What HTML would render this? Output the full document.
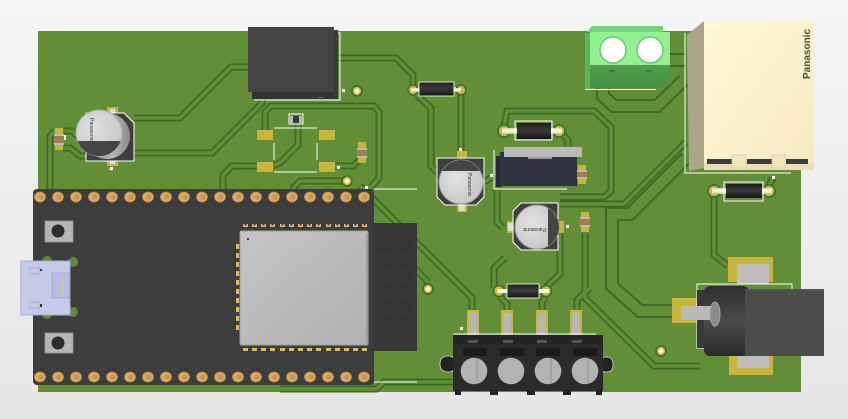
<!DOCTYPE html>
<html><head><meta charset="utf-8"><style>
html,body{margin:0;padding:0;width:848px;height:419px;overflow:hidden;background:#eee;}
svg{display:block;}
</style></head><body>
<svg width="848" height="419" viewBox="0 0 848 419" xmlns="http://www.w3.org/2000/svg">
<defs>
<linearGradient id="bg" x1="0" y1="0" x2="0" y2="1"><stop offset="0" stop-color="#f6f6f6"/><stop offset="1" stop-color="#e6e6e6"/></linearGradient>
<linearGradient id="relay" x1="0" y1="0" x2="1" y2="1"><stop offset="0" stop-color="#fff9d6"/><stop offset="1" stop-color="#f7eac2"/></linearGradient>
<linearGradient id="diode" x1="0" y1="0" x2="0" y2="1"><stop offset="0" stop-color="#1c1c1c"/><stop offset="0.45" stop-color="#3a3a3a"/><stop offset="1" stop-color="#151515"/></linearGradient>
<linearGradient id="lead" x1="0" y1="0" x2="0" y2="1"><stop offset="0" stop-color="#d8d4b0"/><stop offset="0.5" stop-color="#fffbe0"/><stop offset="1" stop-color="#c8c4a0"/></linearGradient>
<linearGradient id="capside" x1="0" y1="0" x2="1" y2="0"><stop offset="0" stop-color="#777"/><stop offset="0.6" stop-color="#b8b8b8"/><stop offset="1" stop-color="#8a8a8a"/></linearGradient>
<radialGradient id="captop" cx="0.4" cy="0.4" r="0.7"><stop offset="0" stop-color="#e2e2e2"/><stop offset="1" stop-color="#c4c4c4"/></radialGradient>
<linearGradient id="shield" x1="0" y1="0" x2="1" y2="1"><stop offset="0" stop-color="#c4c4c4"/><stop offset="1" stop-color="#b2b2b2"/></linearGradient>
<linearGradient id="tb" x1="0" y1="0" x2="0" y2="1"><stop offset="0" stop-color="#4f9f4f"/><stop offset="1" stop-color="#438f43"/></linearGradient>
<linearGradient id="jack" x1="0" y1="0" x2="0" y2="1"><stop offset="0" stop-color="#2e2e2e"/><stop offset="0.5" stop-color="#4a4a4a"/><stop offset="1" stop-color="#2a2a2a"/></linearGradient>
<g id="tr" fill="none" stroke-linejoin="miter">
<path d="M134,118 L180,118 L231,67 L250,67"/>
<path d="M134,153 L212,153 L262,103 L262,95"/>
<path d="M334,58 L396,58 L413,75 L413,86"/>
<path d="M265,130 L265,112 L271,106 L374,106 L379,112 L379,178 L371,187"/>
<path d="M298,124 L298,145 L281,162 L273,166"/>
<path d="M257,166 L232,166 L223,175 L223,192"/>
<path d="M344,181 L300,181 L294,187 L294,192"/>
<path d="M335,166 L353,166 L362,158"/>
<path d="M55,131 L50,136 L50,192"/>
<path d="M63,131 L72,131 L80,138"/>
<path d="M63,148 L70,148 L80,156 L90,156"/>
<path d="M461,95 L461,152"/>
<path d="M417,95 L431,108 L431,166 L440,175"/>
<path d="M504,127 L507,111 L594,111 L611,127 L611,191 L604,197 L560,197"/>
<path d="M497,190 L497,222 L503,228"/>
<path d="M546,287 L560,274 L560,228"/>
<path d="M505,258 L494,268 L494,288"/>
<path d="M585,233 L585,298 L654,366 L700,366"/>
<path d="M714,196 L714,255 L728,266"/>
<path d="M769,186 L773,178"/>
<path d="M360,186 L472,298 L472,312"/>
<path d="M405,258 L428,282"/>
<path d="M499,296 L507,304 L507,312"/>
<path d="M546,296 L542,302 L542,312"/>
<path d="M560,204 L624,204 L686,142"/>
<path d="M280,389 L376,389 L384,382 L455,382"/>
<path d="M484,182 L494,176"/>
<path d="M559,131 L568,140 L568,150"/>
<path d="M577,312 L577,300 L590,288"/>
</g>
<g id="trw" fill="none" stroke-linejoin="miter">
<path d="M603,88 L603,96 L614,106 L657,106 L684,80"/>
<path d="M686,158 L630,214 L612,214 L612,286 L640,311 L674,311"/>
<path d="M668,60 L686,60"/>
</g>
</defs>

<rect width="848" height="419" fill="url(#bg)"/>
<!-- board -->
<rect x="38" y="31" width="763" height="361" fill="#628e37"/>

<!-- traces -->
<use href="#trw" stroke="#3d6a25" stroke-width="14"/>
<use href="#trw" stroke="#628e37" stroke-width="10"/>
<use href="#tr" stroke="#3d6a25" stroke-width="7"/>
<use href="#tr" stroke="#628e37" stroke-width="3.5"/>

<!-- vias -->
<g fill="#cdb445" stroke="#3d6a25" stroke-width="1.5">
<circle cx="357" cy="91" r="5"/><circle cx="347" cy="181" r="5"/><circle cx="428" cy="289" r="5"/><circle cx="661" cy="351" r="5"/>
</g>
<g fill="#f4f0d8">
<circle cx="357" cy="91" r="2.6"/><circle cx="347" cy="181" r="2.6"/><circle cx="428" cy="289" r="2.6"/><circle cx="661" cy="351" r="2.6"/>
</g>

<!-- silk dots -->
<g fill="#fff">
<rect x="342" y="89" width="3" height="3"/><rect x="337" y="166" width="3" height="3"/><rect x="110" y="167" width="3" height="3"/>
<rect x="459" y="148" width="3" height="3"/><rect x="490" y="174" width="3" height="3"/><rect x="566" y="225" width="3" height="3"/>
<rect x="460" y="327" width="3" height="3"/><rect x="772" y="176" width="3" height="3"/><rect x="365" y="186" width="3" height="3"/>
</g>
<line x1="374" y1="189" x2="417" y2="189" stroke="#fff" stroke-width="1"/>
<line x1="374" y1="382" x2="417" y2="382" stroke="#fff" stroke-width="1"/>

<!-- inductor black box -->
<rect x="255" y="33" width="85" height="67" fill="none" stroke="#fff" stroke-width="1"/>
<rect x="252" y="90" width="86" height="9" fill="#333"/>
<rect x="332" y="30" width="6" height="66" fill="#393939"/>
<rect x="248" y="27" width="86" height="65" fill="#444"/>
<rect x="318" y="97" width="6" height="1" fill="#666"/>

<!-- SMD footprint -->
<g fill="#c9b43d">
<rect x="257" y="130" width="16" height="10"/><rect x="319" y="130" width="16" height="10"/>
<rect x="257" y="162" width="16" height="10"/><rect x="319" y="162" width="16" height="10"/>
</g>
<g stroke="#fff" stroke-width="1">
<line x1="274" y1="128" x2="317" y2="128"/><line x1="274" y1="172" x2="317" y2="172"/>
<line x1="274" y1="143" x2="274" y2="160"/><line x1="317" y1="143" x2="317" y2="160"/>
</g>
<rect x="289" y="114" width="14" height="10" fill="none" stroke="#fff" stroke-width="1"/>
<rect x="290" y="116" width="12" height="7" fill="#3b3b3b"/>
<rect x="290" y="116" width="3" height="7" fill="#bbb"/><rect x="299" y="116" width="3" height="7" fill="#bbb"/>

<!-- small resistors -->
<g>
<rect x="55" y="128" width="8" height="22" fill="#c9b43d"/><rect x="54" y="134" width="10" height="11" fill="#a07e52"/><rect x="54" y="134" width="10" height="2" fill="#bbb"/><rect x="54" y="143" width="10" height="2" fill="#bbb"/><rect x="64" y="135" width="2" height="5" fill="#fff"/>
<rect x="358" y="142" width="8" height="21" fill="#c9b43d"/><rect x="357" y="148" width="10" height="10" fill="#a07e52"/><rect x="357" y="148" width="10" height="2" fill="#bbb"/><rect x="357" y="156" width="10" height="2" fill="#bbb"/>
<rect x="578" y="165" width="8" height="19" fill="#c9b43d"/><rect x="577" y="170" width="10" height="9" fill="#a07e52"/><rect x="577" y="170" width="10" height="2" fill="#bbb"/><rect x="577" y="177" width="10" height="2" fill="#bbb"/>
<rect x="581" y="212" width="8" height="20" fill="#c9b43d"/><rect x="580" y="217" width="10" height="10" fill="#a07e52"/><rect x="580" y="217" width="10" height="2" fill="#bbb"/><rect x="580" y="225" width="10" height="2" fill="#bbb"/>
</g>

<!-- C1 -->
<rect x="107" y="107" width="11" height="8" fill="#c9b43d"/><rect x="107" y="158" width="11" height="8" fill="#c9b43d"/>
<rect x="110" y="109" width="5" height="5" fill="#ddd"/><rect x="110" y="159" width="5" height="5" fill="#ddd"/>
<polygon points="86,113 124,113 134,123 134,161 86,161" fill="#3e3e3e" stroke="#fff" stroke-width="1"/>
<circle cx="107" cy="136" r="23" fill="url(#capside)"/>
<circle cx="99" cy="133" r="23" fill="url(#captop)" stroke="#aaa" stroke-width="1"/>
<path d="M77.4,141 A23,23 0 0 0 120.6,141 Z" fill="#454545"/>
<text x="0" y="0" transform="translate(90,118) rotate(90)" font-family="Liberation Sans, sans-serif" font-size="5" fill="#333">Panasonic</text>
<circle cx="111" cy="169" r="1.5" fill="#fff"/>

<!-- D1 -->
<rect x="413" y="87" width="48" height="5" fill="url(#lead)"/>
<circle cx="413" cy="90" r="5" fill="#cdb445" stroke="#3d6a25" stroke-width="1.5"/>
<circle cx="461" cy="90" r="5" fill="#cdb445" stroke="#3d6a25" stroke-width="1.5"/>
<rect x="411" y="88" width="50" height="4" fill="url(#lead)"/>
<rect x="419" y="82" width="35" height="14" fill="url(#diode)" stroke="#fff" stroke-width="0.8"/>

<!-- D2 -->
<circle cx="504" cy="131" r="6" fill="#cdb445" stroke="#3d6a25" stroke-width="1.5"/>
<circle cx="559" cy="131" r="6" fill="#cdb445" stroke="#3d6a25" stroke-width="1.5"/>
<rect x="502" y="128" width="60" height="6" fill="url(#lead)"/>
<rect x="515" y="121" width="37" height="19" fill="none" stroke="#fff" stroke-width="1"/>
<rect x="517" y="123" width="34" height="16" fill="url(#diode)"/>

<!-- D3 -->
<circle cx="714" cy="191" r="6" fill="#cdb445" stroke="#3d6a25" stroke-width="1.5"/>
<circle cx="769" cy="191" r="6" fill="#cdb445" stroke="#3d6a25" stroke-width="1.5"/>
<rect x="712" y="188" width="60" height="6" fill="url(#lead)"/>
<rect x="724" y="182" width="39" height="19" fill="none" stroke="#fff" stroke-width="1"/>
<rect x="726" y="184" width="36" height="14" fill="url(#diode)"/>

<!-- D4 -->
<circle cx="499" cy="291" r="5.5" fill="#cdb445" stroke="#3d6a25" stroke-width="1.5"/>
<circle cx="546" cy="291" r="5.5" fill="#cdb445" stroke="#3d6a25" stroke-width="1.5"/>
<rect x="497" y="289" width="52" height="4" fill="#f4f4f4"/>
<rect x="507" y="284" width="32" height="14" fill="url(#diode)" stroke="#fff" stroke-width="0.8"/>

<!-- C2 -->
<rect x="457" y="151" width="10" height="8" fill="#c9b43d"/><rect x="457" y="204" width="10" height="8" fill="#c9b43d"/>
<rect x="459" y="205" width="6" height="6" fill="#ddd"/>
<polygon points="437,158 484,158 484,197 476,205 445,205 437,197" fill="#3e3e3e" stroke="#fff" stroke-width="1"/>
<circle cx="461" cy="182" r="22" fill="url(#captop)" stroke="#999" stroke-width="1"/>
<path d="M442,171 A22,22 0 0 1 480,171 Z" fill="#454545"/>
<text x="0" y="0" transform="translate(468,173) rotate(90)" font-family="Liberation Sans, sans-serif" font-size="5" fill="#333">Panasonic</text>

<!-- regulator -->
<line x1="494" y1="150" x2="494" y2="189" stroke="#fff" stroke-width="1"/>
<line x1="494" y1="189" x2="567" y2="189" stroke="#fff" stroke-width="1"/>
<rect x="496" y="156" width="6" height="31" fill="#252936"/>
<rect x="500" y="152" width="77" height="34" fill="#2f3342"/>
<rect x="504" y="147" width="78" height="10" fill="#b9b9b9"/>
<rect x="528" y="157" width="24" height="2" fill="#999"/>

<!-- C3 -->
<rect x="507" y="221" width="8" height="12" fill="#c9b43d"/><rect x="556" y="221" width="8" height="12" fill="#c9b43d"/>
<rect x="508" y="223" width="6" height="8" fill="#ddd"/>
<polygon points="521,203 558,203 558,250 521,250 513,242 513,211" fill="#3e3e3e" stroke="#fff" stroke-width="1"/>
<circle cx="537" cy="227" r="22" fill="url(#captop)" stroke="#999" stroke-width="1"/>
<path d="M548,208 A22,22 0 0 1 548,246 Z" fill="#454545"/>
<text x="0" y="0" transform="translate(546,228) rotate(180)" font-family="Liberation Sans, sans-serif" font-size="5" fill="#333">Panasonic</text>

<!-- terminal block -->
<rect x="585" y="89" width="71" height="1" fill="#fff"/>
<polygon points="587,32 592,26 663,26 663,32" fill="#76d676"/>
<rect x="585" y="33" width="10" height="56" fill="#5cb55c"/>
<rect x="590" y="32" width="80" height="34" fill="#93f193"/>
<polygon points="590,65 670,65 670,80 660,88 590,88" fill="url(#tb)"/>
<circle cx="613" cy="50" r="13" fill="#fff" stroke="#6cc86c" stroke-width="1.5"/>
<circle cx="650" cy="50" r="13" fill="#fff" stroke="#6cc86c" stroke-width="1.5"/>
<ellipse cx="612" cy="71" rx="3" ry="1.5" fill="#3d7d3d"/><ellipse cx="649" cy="71" rx="3" ry="1.5" fill="#3d7d3d"/>

<!-- relay -->
<polyline points="685,33 685,173 791,173" fill="none" stroke="#fff" stroke-width="1"/>
<polygon points="687,35 704,21 704,168 689,171" fill="#ada58b"/>
<rect x="704" y="21" width="110" height="149" fill="url(#relay)"/>
<rect x="704" y="163" width="110" height="7" fill="#ebdfb6"/>
<rect x="707" y="159" width="25" height="5" fill="#3c3c3c"/>
<rect x="747" y="159" width="25" height="5" fill="#3c3c3c"/>
<rect x="786" y="159" width="22" height="5" fill="#3c3c3c"/>
<rect x="732" y="155" width="14" height="13" fill="#f3e6be" stroke="#d8cba0" stroke-width="0.8"/>
<rect x="772" y="155" width="13" height="13" fill="#f3e6be" stroke="#d8cba0" stroke-width="0.8"/>
<text x="0" y="0" transform="translate(810,79) rotate(-90)" font-family="Liberation Sans, sans-serif" font-weight="bold" font-size="10" fill="#484848">Panasonic</text>

<!-- DC jack -->
<rect x="728" y="257" width="45" height="25" fill="#c9b43d"/>
<rect x="737" y="264" width="32" height="20" fill="#bdbdbd"/>
<rect x="729" y="350" width="44" height="25" fill="#c9b43d"/>
<rect x="737" y="350" width="32" height="18" fill="#bdbdbd"/>
<rect x="672" y="298" width="30" height="25" fill="#c9b43d"/>
<rect x="697" y="284" width="95" height="64" fill="none" stroke="#fff" stroke-width="1"/>
<rect x="697" y="290" width="14" height="58" fill="#393939"/>
<rect x="704" y="286" width="45" height="70" rx="6" fill="url(#jack)"/>
<rect x="681" y="306" width="32" height="14" fill="#bababa"/>
<ellipse cx="715" cy="314" rx="5" ry="12" fill="#8a8a8a" stroke="#aaa" stroke-width="1"/>
<rect x="745" y="289" width="79" height="67" fill="#4c4c4c"/>
<rect x="745" y="289" width="79" height="2" fill="#555"/>

<!-- 4-pin connector -->
<g>
<rect x="467" y="310" width="12" height="26" fill="#c9b43d"/><rect x="469" y="313" width="8" height="23" fill="#b6b6b6"/>
<rect x="501" y="310" width="12" height="26" fill="#c9b43d"/><rect x="503" y="313" width="8" height="23" fill="#b6b6b6"/>
<rect x="536" y="310" width="12" height="26" fill="#c9b43d"/><rect x="538" y="313" width="8" height="23" fill="#b6b6b6"/>
<rect x="570" y="310" width="12" height="26" fill="#c9b43d"/><rect x="572" y="313" width="8" height="23" fill="#b6b6b6"/>
</g>
<line x1="453" y1="334" x2="596" y2="334" stroke="#fff" stroke-width="1"/>
<rect x="440" y="356" width="16" height="16" rx="7" fill="#222" stroke="#ddd" stroke-width="0.8"/>
<rect x="600" y="357" width="13" height="15" rx="6" fill="#222" stroke="#ddd" stroke-width="0.8"/>
<rect x="453" y="335" width="150" height="56" fill="#2b2b2b"/>
<rect x="453" y="335" width="150" height="9" fill="#242424"/>
<g fill="#555"><rect x="468" y="340" width="10" height="3"/><rect x="503" y="340" width="10" height="3"/><rect x="537" y="340" width="10" height="3"/><rect x="572" y="340" width="10" height="3"/></g>
<g fill="#1b1b1b"><rect x="463" y="348" width="24" height="8"/><rect x="500" y="348" width="24" height="8"/><rect x="536" y="348" width="24" height="8"/><rect x="573" y="348" width="24" height="8"/></g>
<g fill="#b3b3b3"><circle cx="474" cy="371" r="13.3"/><circle cx="511" cy="371" r="13.3"/><circle cx="548" cy="371" r="13.3"/><circle cx="585" cy="371" r="13.3"/></g>
<g stroke="#888" stroke-width="0.8"><line x1="477" y1="358" x2="477" y2="384"/><line x1="551" y1="358" x2="551" y2="384"/><line x1="588" y1="358" x2="588" y2="384"/></g>
<g fill="#222"><rect x="455" y="390" width="6" height="5"/><rect x="490" y="390" width="8" height="5"/><rect x="527" y="390" width="8" height="5"/><rect x="563" y="390" width="8" height="5"/><rect x="596" y="390" width="6" height="5"/></g>

<!-- ESP32 devkit -->
<rect x="374" y="223" width="43" height="128" fill="#373737"/>
<g fill="none" stroke="#303030" stroke-width="1">
<rect x="379" y="236" width="30" height="13"/><rect x="379" y="266" width="30" height="20"/><rect x="379" y="302" width="30" height="15"/>
<line x1="395" y1="249" x2="395" y2="330"/>
</g>
<rect x="33" y="189" width="341" height="196" rx="4" fill="#3d3d3d"/>

<!-- header pins -->
<g id="pinrow">
<g fill="#dcab63" stroke="#b98a4c" stroke-width="0.8">
<ellipse cx="40" cy="197" rx="5.5" ry="5"/><ellipse cx="58" cy="197" rx="5.5" ry="5"/><ellipse cx="76" cy="197" rx="5.5" ry="5"/><ellipse cx="94" cy="197" rx="5.5" ry="5"/><ellipse cx="112" cy="197" rx="5.5" ry="5"/><ellipse cx="130" cy="197" rx="5.5" ry="5"/><ellipse cx="148" cy="197" rx="5.5" ry="5"/><ellipse cx="166" cy="197" rx="5.5" ry="5"/><ellipse cx="184" cy="197" rx="5.5" ry="5"/><ellipse cx="202" cy="197" rx="5.5" ry="5"/><ellipse cx="220" cy="197" rx="5.5" ry="5"/><ellipse cx="238" cy="197" rx="5.5" ry="5"/><ellipse cx="256" cy="197" rx="5.5" ry="5"/><ellipse cx="274" cy="197" rx="5.5" ry="5"/><ellipse cx="292" cy="197" rx="5.5" ry="5"/><ellipse cx="310" cy="197" rx="5.5" ry="5"/><ellipse cx="328" cy="197" rx="5.5" ry="5"/><ellipse cx="346" cy="197" rx="5.5" ry="5"/><ellipse cx="364" cy="197" rx="5.5" ry="5"/>
</g>
<g fill="#c69352">
<circle cx="41" cy="197" r="2.5"/><circle cx="59" cy="197" r="2.5"/><circle cx="77" cy="197" r="2.5"/><circle cx="95" cy="197" r="2.5"/><circle cx="113" cy="197" r="2.5"/><circle cx="131" cy="197" r="2.5"/><circle cx="149" cy="197" r="2.5"/><circle cx="167" cy="197" r="2.5"/><circle cx="185" cy="197" r="2.5"/><circle cx="203" cy="197" r="2.5"/><circle cx="221" cy="197" r="2.5"/><circle cx="239" cy="197" r="2.5"/><circle cx="257" cy="197" r="2.5"/><circle cx="275" cy="197" r="2.5"/><circle cx="293" cy="197" r="2.5"/><circle cx="311" cy="197" r="2.5"/><circle cx="329" cy="197" r="2.5"/><circle cx="347" cy="197" r="2.5"/><circle cx="365" cy="197" r="2.5"/>
</g>
</g>
<use href="#pinrow" transform="translate(0,180)"/>

<!-- buttons -->
<rect x="45" y="221" width="28" height="21" fill="#b5b5b5" stroke="#9a9a9a" stroke-width="0.8"/>
<circle cx="58" cy="231" r="6.5" fill="#2d2d2d"/>
<rect x="45" y="333" width="28" height="20" fill="#b5b5b5" stroke="#9a9a9a" stroke-width="0.8"/>
<circle cx="58" cy="343" r="6.5" fill="#2d2d2d"/>

<!-- USB -->
<g fill="#5f8a35"><circle cx="47" cy="261" r="5"/><circle cx="73" cy="262" r="5"/><circle cx="47" cy="314" r="5"/><circle cx="73" cy="312" r="5"/></g>
<rect x="21" y="261" width="49" height="54" fill="#c4cae8" stroke="#a7add0" stroke-width="1"/>
<rect x="52" y="273" width="18" height="25" fill="#b8bedf" stroke="#a0a6c8" stroke-width="0.8"/>
<rect x="62" y="277" width="2" height="18" fill="#d8c890"/>
<rect x="30" y="268" width="10" height="6" fill="none" stroke="#9ea4c8" stroke-width="0.8"/>
<rect x="30" y="302" width="10" height="6" fill="none" stroke="#9ea4c8" stroke-width="0.8"/>
<rect x="40" y="269" width="2" height="2" fill="#333"/><rect x="40" y="304" width="2" height="3" fill="#333"/>

<!-- module castellations -->
<g fill="#e6b566">
<rect x="243" y="224" width="5" height="3"/><rect x="252" y="224" width="5" height="3"/><rect x="261" y="224" width="5" height="3"/><rect x="270" y="224" width="5" height="3"/><rect x="280" y="224" width="5" height="3"/><rect x="289" y="224" width="5" height="3"/><rect x="298" y="224" width="5" height="3"/><rect x="307" y="224" width="5" height="3"/><rect x="316" y="224" width="5" height="3"/><rect x="326" y="224" width="5" height="3"/><rect x="335" y="224" width="5" height="3"/><rect x="344" y="224" width="5" height="3"/><rect x="353" y="224" width="5" height="3"/><rect x="362" y="224" width="5" height="3"/>
<rect x="243" y="348" width="5" height="3"/><rect x="252" y="348" width="5" height="3"/><rect x="261" y="348" width="5" height="3"/><rect x="270" y="348" width="5" height="3"/><rect x="280" y="348" width="5" height="3"/><rect x="289" y="348" width="5" height="3"/><rect x="298" y="348" width="5" height="3"/><rect x="307" y="348" width="5" height="3"/><rect x="316" y="348" width="5" height="3"/><rect x="326" y="348" width="5" height="3"/><rect x="335" y="348" width="5" height="3"/><rect x="344" y="348" width="5" height="3"/><rect x="353" y="348" width="5" height="3"/><rect x="362" y="348" width="5" height="3"/>
<rect x="236" y="244" width="3" height="5"/><rect x="236" y="253" width="3" height="5"/><rect x="236" y="262" width="3" height="5"/><rect x="236" y="271" width="3" height="5"/><rect x="236" y="280" width="3" height="5"/><rect x="236" y="289" width="3" height="5"/><rect x="236" y="298" width="3" height="5"/><rect x="236" y="307" width="3" height="5"/><rect x="236" y="316" width="3" height="5"/><rect x="236" y="325" width="3" height="5"/>
</g>
<g fill="#3d3d3d">
<rect x="244.5" y="224" width="2" height="1.5"/><rect x="253.5" y="224" width="2" height="1.5"/><rect x="262.5" y="224" width="2" height="1.5"/><rect x="271.5" y="224" width="2" height="1.5"/><rect x="281.5" y="224" width="2" height="1.5"/><rect x="290.5" y="224" width="2" height="1.5"/><rect x="299.5" y="224" width="2" height="1.5"/><rect x="308.5" y="224" width="2" height="1.5"/><rect x="317.5" y="224" width="2" height="1.5"/><rect x="327.5" y="224" width="2" height="1.5"/><rect x="336.5" y="224" width="2" height="1.5"/><rect x="345.5" y="224" width="2" height="1.5"/><rect x="354.5" y="224" width="2" height="1.5"/><rect x="363.5" y="224" width="2" height="1.5"/>
</g>
<rect x="240" y="231" width="128" height="114" rx="1.5" fill="url(#shield)" stroke="#a2a2a2" stroke-width="1"/>
<rect x="366" y="233" width="2" height="110" fill="#9c9c9c"/>
<rect x="247" y="238" width="2" height="2" fill="#444"/>
</svg>
</body></html>
